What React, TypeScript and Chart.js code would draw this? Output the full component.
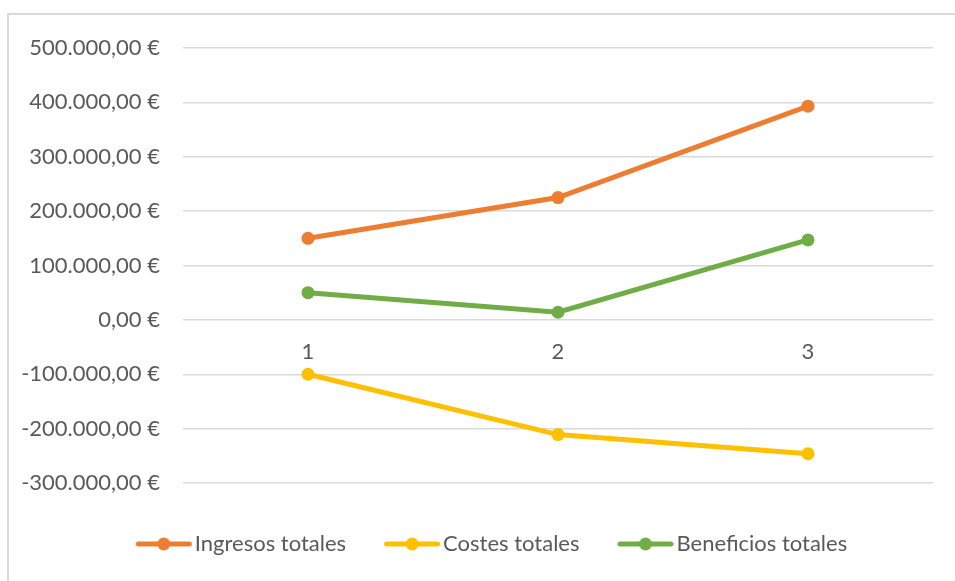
import React, { useEffect, useRef } from "react";
import { Chart, registerables } from "chart.js";

Chart.register(...registerables);

const categories = ["1", "2", "3"];
const ingresos = [150000, 225000, 393000];
const costes = [-100000, -211000, -246000];
const beneficios = [50000, 14000, 147000];
const seriesNames = ["Ingresos totales", "Costes totales", "Beneficios totales"];
const seriesColors = ["#ED7D31", "#FFC000", "#70AD47"];

const FONT = "Lato";
const FS = 22;
const TEXT = "#595959";
const GRID = "#D9D9D9";

// legend geometry
const LEG_PAD = 50;
const SAMPLE_W = 56;
const SAMPLE_GAP = 38; // gap between previous text and next sample
const IMG_W = 120;
const IMG_H = 18;
const LEG_SHIFT = 31;

function euro(v: number) {
  const neg = v < 0;
  const [int, dec] = Math.abs(v).toFixed(2).split(".");
  const grouped = int.replace(/\B(?=(\d{3})+(?!\d))/g, ".");
  return (neg ? "-" : "") + grouped + "," + dec + " €";
}

function lineSample(color: string, offset: number) {
  const c = document.createElement("canvas");
  c.width = IMG_W;
  c.height = IMG_H;
  const ctx = c.getContext("2d")!;
  ctx.strokeStyle = color;
  ctx.fillStyle = color;
  ctx.lineWidth = 5;
  ctx.lineCap = "round";
  ctx.beginPath();
  ctx.moveTo(offset + 2.5, IMG_H / 2);
  ctx.lineTo(offset + SAMPLE_W - 2.5, IMG_H / 2);
  ctx.stroke();
  ctx.beginPath();
  ctx.arc(offset + SAMPLE_W / 2, IMG_H / 2, 6.5, 0, Math.PI * 2);
  ctx.fill();
  return c;
}

const shiftLegend = {
  id: "shiftLegend",
  afterLayout(chart: any) {
    if (chart.legend) {
      chart.legend.left += LEG_SHIFT;
      chart.legend.right += LEG_SHIFT;
    }
  },
};

export default function App() {
  const ref = useRef<HTMLCanvasElement | null>(null);

  useEffect(() => {
    if (!ref.current) return;
    const k = LEG_PAD - SAMPLE_GAP;
    const bw = SAMPLE_W - k + 3 - FS / 2;
    const imgLeft = bw / 2 - IMG_W / 2;
    const offset = -k - imgLeft;
    const samples = seriesColors.map((c) => lineSample(c, offset));

    const values = [ingresos, costes, beneficios];
    const chart = new Chart(ref.current, {
      type: "line",
      data: {
        labels: categories,
        datasets: values.map((data, i) => ({
          label: seriesNames[i],
          data,
          borderColor: seriesColors[i],
          backgroundColor: seriesColors[i],
          borderWidth: 5,
          pointRadius: 6.5,
          pointHoverRadius: 6.5,
          pointBorderWidth: 0,
          pointBackgroundColor: seriesColors[i],
          tension: 0,
        })),
      },
      options: {
        responsive: false,
        animation: false,
        layout: { padding: { left: 0, right: 22, top: 48, bottom: 16 } },
        scales: {
          x: {
            type: "category",
            offset: true,
            position: { y: 0 } as any,
            grid: { display: false, drawTicks: false },
            border: { display: false },
            ticks: { color: TEXT, font: { family: FONT, size: FS }, padding: 19 },
          },
          y: {
            min: -300000,
            max: 500000,
            afterFit: (s: any) => {
              s.width = 183;
            },
            grid: { color: GRID, lineWidth: 1.5, drawTicks: false },
            border: { display: false },
            ticks: {
              stepSize: 100000,
              color: TEXT,
              padding: 23,
              font: { family: FONT, size: FS },
              callback: (v: any) => euro(Number(v)),
            },
          },
        },
        plugins: {
          tooltip: { enabled: false },
          legend: {
            position: "bottom",
            labels: {
              usePointStyle: true,
              pointStyleWidth: bw,
              padding: LEG_PAD,
              color: TEXT,
              font: { family: FONT, size: FS },
              generateLabels: (ch: any) =>
                ch.data.datasets.map((d: any, i: number) => ({
                  text: d.label,
                  fillStyle: seriesColors[i],
                  strokeStyle: seriesColors[i],
                  fontColor: TEXT,
                  lineWidth: 0,
                  pointStyle: samples[i],
                  hidden: false,
                  datasetIndex: i,
                })),
            },
          },
        },
      },
      plugins: [shiftLegend],
    });
    return () => chart.destroy();
  }, []);

  return (
    <div style={{ position: "fixed", left: 0, top: 0, width: 955, height: 581, background: "#fff", overflow: "hidden" }}>
      <div
        style={{
          position: "absolute",
          left: 7,
          top: 13,
          width: 1000,
          height: 700,
          borderTop: "2px solid #D9D9D9",
          borderLeft: "2px solid #D9D9D9",
          boxSizing: "border-box",
        }}
      />
      <canvas ref={ref} width={955} height={581} style={{ position: "absolute", left: 0, top: 0, width: 955, height: 581 }} />
    </div>
  );
}
